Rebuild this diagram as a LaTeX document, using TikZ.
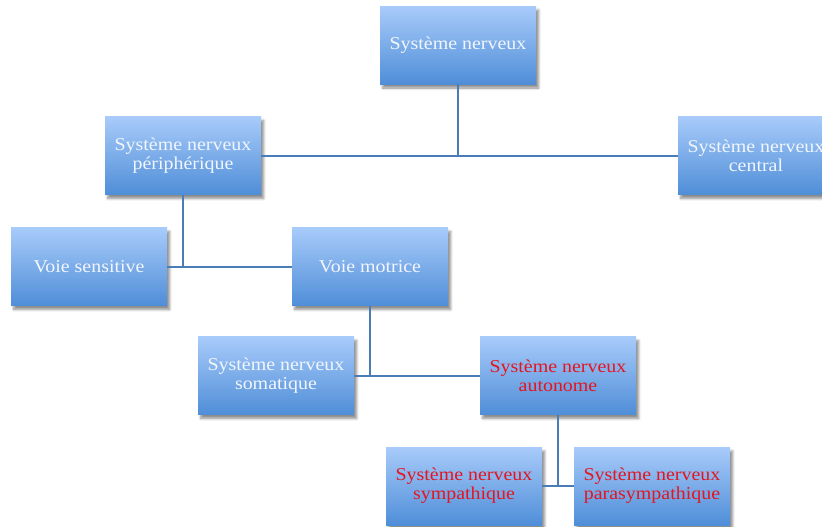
\documentclass[tikz,border=0pt]{standalone}
\usepackage{fontspec}
\setmainfont{Liberation Serif}[FakeStretch=1.1]
\usetikzlibrary{shadows.blur}
\definecolor{boxtop}{RGB}{168,203,250}
\definecolor{boxbot}{RGB}{79,142,216}
\definecolor{linec}{RGB}{74,124,184}
\definecolor{txtw}{RGB}{242,246,252}
\definecolor{txtr}{RGB}{230,20,30}
\tikzset{
  box/.style={rectangle, minimum width=117pt, minimum height=58.5pt, inner sep=0pt,
    top color=boxtop, bottom color=boxbot, align=center, text=txtw,
    font=\fontsize{13.6pt}{14.2pt}\selectfont,
    blur shadow={shadow xshift=2pt, shadow yshift=-3pt, shadow blur steps=6, shadow opacity=45}},
  redtxt/.style={text=txtr},
  conn/.style={draw=linec, line width=1.5pt}
}
\begin{document}
\begin{tikzpicture}[x=0.75pt, y=-0.75pt]
\useasboundingbox (0,0) rectangle (822,526);
\clip (0,0) rectangle (822,526);
\node[box] (sn) at (458,45) {Système nerveux};
\node[box] (snp) at (183,155.5) {Système nerveux\\périphérique};
\node[box] (snc) at (756,155.5) {Système nerveux\\central};
\node[box] (vs) at (89,266.5) {Voie sensitive};
\node[box] (vm) at (370,266.5) {Voie motrice};
\node[box] (sns) at (276,375.5) {Système nerveux\\somatique};
\node[box, redtxt] (sna) at (558,375.5) {Système nerveux\\autonome};
\node[box, redtxt] (sym) at (464,486) {Système nerveux\\sympathique};
\node[box, redtxt] (para) at (652,486) {Système nerveux\\parasympathique};
\draw[conn] (snp.east) -- (snc.west);
\draw[conn] (sn.south) -- (sn.south |- snp.east);
\draw[conn] (vs.east) -- (vm.west);
\draw[conn] (snp.south) -- (snp.south |- vs.east);
\draw[conn] (sns.east) -- (sna.west);
\draw[conn] (vm.south) -- (vm.south |- sns.east);
\draw[conn] (sym.east) -- (para.west);
\draw[conn] (sna.south) -- (sna.south |- sym.east);
\end{tikzpicture}
\end{document}
